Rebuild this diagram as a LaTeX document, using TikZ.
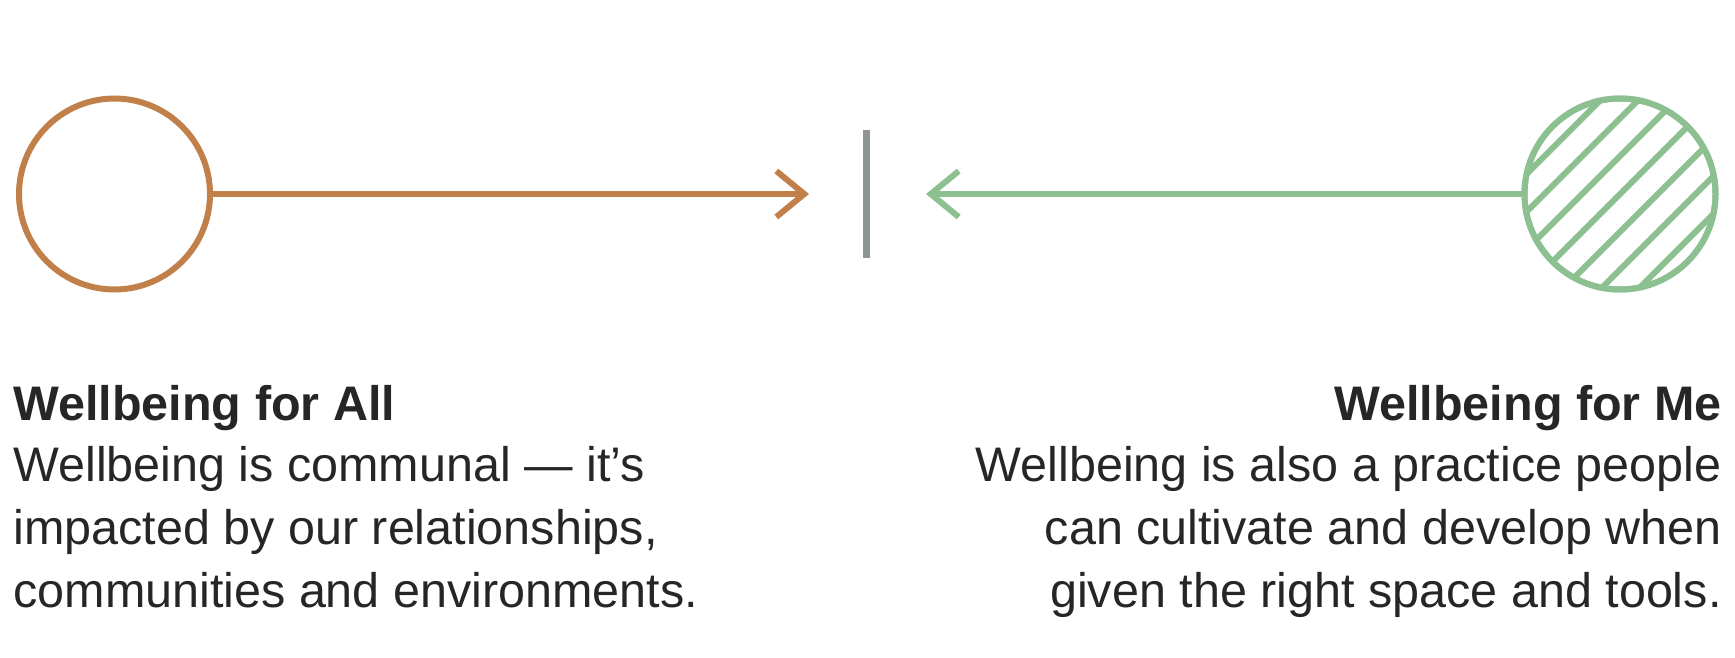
\documentclass[tikz,border=0pt]{standalone}
\usepackage{fontspec}
\setmainfont{Liberation Sans}
\usepackage{xcolor}
\usetikzlibrary{arrows.meta, positioning, calc}
\definecolor{colorAll}{HTML}{C17F4A}
\definecolor{colorMe}{HTML}{8DC091}
\definecolor{colorMid}{HTML}{8E9592}
\definecolor{textcol}{HTML}{262626}

\begin{document}
\begin{tikzpicture}[
  x=0.5pt, y=-0.5pt,
  every node/.style={font=\fontsize{24.25}{31.5}\selectfont, text=textcol},
  ring/.style={circle, draw, line width=3pt, minimum size=95.5pt, inner sep=0pt},
  allring/.style={ring, draw=colorAll},
  mering/.style={ring, draw=colorMe},
  arrow/.style={-{Straight Barb[length=14pt,width=23pt]}, line width=3pt},
  allarrow/.style={arrow, color=colorAll},
  mearrow/.style={arrow, color=colorMe},
  hatch/.style={line width=3pt, color=colorMe},
  divider/.style={fill=colorMid, minimum width=3.5pt, minimum height=63.5pt, inner sep=0pt},
  heading/.style={font=\fontsize{24.25}{31.5}\selectfont\bfseries, inner sep=0pt},
  blurb/.style={inner sep=0pt}
]
\useasboundingbox (0,0) rectangle (1735,658);

%% ── Circles and divider ─────────────────────────────────────
\node[allring] (all) at (114.5,194) {};
\node[mering]  (me)  at (1620,194) {};
\node[divider] (mid) at (866,194) {};

\coordinate (alltip) at (809,194);
\coordinate (metip)  at (926,194);

%% Hatching inside the right circle
\begin{scope}
  \clip (me.center) circle (95.5);
  \foreach \k in {-3,...,3}
    \draw[hatch] ([shift={(\k*18.9-150,\k*18.9+150)}]me.center) -- ++(300,-300);
\end{scope}
\node[mering] at (me.center) {};

%% ── Arrows ───────────────────────────────────────────────────
\draw[allarrow] (all.east) -- (alltip);
\draw[mearrow]  (me.west)  -- (metip);

%% ── Texts ────────────────────────────────────────────────────
\node[heading, anchor=base west] (allhead) at (13,420) {Wellbeing for All};
\node[blurb, anchor=base west, align=left] (alltext) at (13,607)
      {Wellbeing is communal — it’s\\
       impacted by our relationships,\\
       communities and environments.};

\node[heading, anchor=base east] (mehead) at (1722,420) {Wellbeing for Me};
\node[blurb, anchor=base east, align=right] (metext) at (1722,607)
      {Wellbeing is also a practice people\\
       can cultivate and develop when\\
       given the right space and tools.};

\end{tikzpicture}
\end{document}
